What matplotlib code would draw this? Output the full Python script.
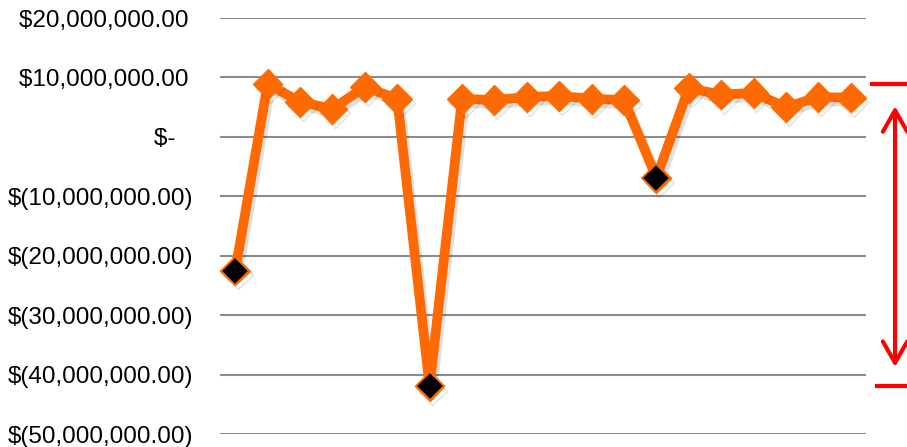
import matplotlib
matplotlib.use("Agg")
import matplotlib.pyplot as plt
import matplotlib.patheffects as pe
import matplotlib.transforms as mtransforms
from matplotlib.ticker import FixedLocator, FixedFormatter

# valeurs (en millions de $)
periodes = list(range(20))
valeurs_m = [-22.5, 8.9, 5.9, 4.7, 8.4, 6.4, -42.0, 6.4, 6.2, 6.7,
             6.9, 6.4, 6.2, -6.9, 8.2, 7.1, 7.4, 5.0, 6.7, 6.6]
graduations = [20, 10, 0, -10, -20, -30, -40, -50]
etiquettes = ["$20,000,000.00\u2009", "$10,000,000.00\u2009", "$-  \u2009",
              "$(10,000,000.00)", "$(20,000,000.00)", "$(30,000,000.00)",
              "$(40,000,000.00)", "$(50,000,000.00)"]

ORANGE = "#FF6A00"
ROUGE = "#FF0000"

valeurs = [v * 1e6 for v in valeurs_m]

plt.rcParams["font.family"] = ["Liberation Sans", "DejaVu Sans"]

fig = plt.figure(figsize=(9.07, 4.47), dpi=100)
ax = fig.add_axes([220 / 907, 1 - 434 / 447, 646 / 907, 416 / 447])

ombre = [pe.SimpleLineShadow(offset=(2, -3), alpha=0.12, shadow_color="black"), pe.Normal()]

ax.plot(periodes, valeurs, color=ORANGE, lw=7, marker="D", markersize=15,
        markerfacecolor=ORANGE, markeredgecolor=ORANGE, zorder=3,
        clip_on=False, path_effects=ombre, solid_joinstyle="round")

neg_x = [p for p, v in zip(periodes, valeurs) if v < 0]
neg_y = [v for v in valeurs if v < 0]
ax.plot(neg_x, neg_y, ls="none", marker="D", markersize=14,
        markerfacecolor="black", markeredgecolor=ORANGE, markeredgewidth=1.3,
        zorder=4, clip_on=False)

ax.set_xlim(-0.47, 19.47)
ax.set_ylim(-50e6, 20e6)
ax.yaxis.set_major_locator(FixedLocator([g * 1e6 for g in graduations]))
ax.yaxis.set_major_formatter(FixedFormatter(etiquettes))
ax.set_xticks([])
ax.tick_params(axis="y", length=0, pad=19, labelsize=17.5)
ax.grid(axis="y", color="#8C8C8C", lw=1.5)
ax.set_axisbelow(True)
for s in ax.spines.values():
    s.set_visible(False)

# etendue max / min en rouge a droite
trans = mtransforms.blended_transform_factory(ax.transAxes, ax.transData)
vmax, vmin = max(valeurs), min(valeurs)
ax.plot([1.009, 1.07], [vmax, vmax], color=ROUGE, lw=3, transform=trans, clip_on=False)
ax.plot([1.017, 1.07], [vmin, vmin], color=ROUGE, lw=3, transform=trans, clip_on=False)
ax.annotate("", xy=(1.045, vmin), xytext=(1.045, vmax), xycoords=trans, textcoords=trans,
            arrowprops=dict(arrowstyle="<->,head_length=0.7,head_width=0.4", color=ROUGE,
                            lw=3, shrinkA=16, shrinkB=14, mutation_scale=22),
            annotation_clip=False)

fig.savefig("out.png", dpi=100)
